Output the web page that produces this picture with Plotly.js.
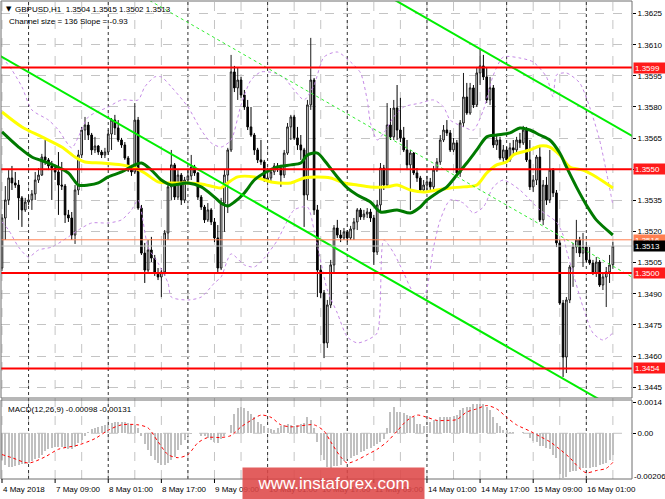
<!DOCTYPE html>
<html><head><meta charset="utf-8">
<script src="https://cdn.plot.ly/plotly-3.0.1.min.js"></script>
<style>html,body{margin:0;padding:0;background:#fff;}#chart{width:665px;height:499px;}</style>
</head><body><div id="chart"></div>
<script>
// ---- price data (GBPUSD H1) ----
const openP = [
1.35024,1.35265,1.35352,1.35458,1.35434,1.35424,1.35362,1.35304,1.35342,1.35352,
1.35381,1.35448,1.35472,1.35559,1.35545,1.35516,1.35506,1.35487,1.35424,1.35419,
1.35280,1.35265,1.35183,1.35400,1.35569,1.35689,1.35713,1.35665,1.35593,1.35612,
1.35583,1.35569,1.35583,1.35670,1.35737,1.35699,1.35641,1.35617,1.35554,1.35496,
1.35487,1.35737,1.35313,1.35096,1.35014,1.35111,1.35072,1.35000,1.34981,1.35005,
1.35193,1.35415,1.35521,1.35366,1.35472,1.35352,1.35448,1.35468,1.35511,1.35482,
1.35366,1.35318,1.35256,1.35304,1.35246,1.35169,1.35024,1.35337,1.35472,1.35593,
1.35969,1.35892,1.35930,1.35858,1.35800,1.35704,1.35665,1.35593,1.35545,1.35535,
1.35448,1.35458,1.35487,1.35516,1.35506,1.35472,1.35578,1.35704,1.35752,1.35651,
1.35617,1.35593,1.35376,1.35810,1.35930,1.35304,1.35014,1.34904,1.34663,1.34846,
1.35039,1.35217,1.35183,1.35169,1.35198,1.35169,1.35212,1.35246,1.35304,1.35270,
1.35284,1.35294,1.35265,1.35101,1.35328,1.35506,1.35424,1.35713,1.35656,1.35795,
1.35689,1.35651,1.35593,1.35521,1.35578,1.35482,1.35458,1.35400,1.35424,1.35439,
1.35415,1.35496,1.35535,1.35641,1.35689,1.35675,1.35593,1.35627,1.35482,1.35723,
1.35848,1.35771,1.35892,1.35810,1.35964,1.35998,1.35945,1.35834,1.35892,1.35617,
1.35641,1.35554,1.35593,1.35545,1.35603,1.35593,1.35641,1.35627,1.35689,1.35545,
1.35415,1.35448,1.35559,1.35256,1.35424,1.35352,1.35496,1.35386,1.35145,1.34855,
1.34595,1.34870,1.35029,1.35125,1.35159,1.35096,1.35125,1.35063,1.35048,1.35000,
1.35053,1.34942,1.34981,1.35005,1.35040];
const highP = [
1.35284,1.35419,1.35496,1.35516,1.35487,1.35448,1.35371,1.35362,1.35376,1.35400,
1.35487,1.35506,1.35574,1.35641,1.35554,1.35540,1.35521,1.35583,1.35535,1.35429,
1.35304,1.35294,1.35424,1.35593,1.35704,1.35752,1.35728,1.35675,1.35656,1.35617,
1.35593,1.35603,1.35689,1.35747,1.35762,1.35737,1.35651,1.35631,1.35564,1.35521,
1.35819,1.35752,1.35328,1.35145,1.35159,1.35174,1.35087,1.35024,1.35024,1.35207,
1.35424,1.35593,1.35530,1.35496,1.35482,1.35463,1.35496,1.35569,1.35521,1.35487,
1.35376,1.35328,1.35337,1.35313,1.35265,1.35231,1.35362,1.35496,1.35603,1.36051,
1.35998,1.35988,1.35945,1.35882,1.35834,1.35800,1.35675,1.35603,1.35641,1.35545,
1.35506,1.35496,1.35530,1.35530,1.35521,1.35593,1.35723,1.35762,1.35762,1.35704,
1.35665,1.35603,1.35834,1.36133,1.35940,1.35328,1.35039,1.34918,1.34870,1.35063,
1.35231,1.35256,1.35207,1.35217,1.35207,1.35227,1.35265,1.35313,1.35313,1.35304,
1.35313,1.35309,1.35280,1.35352,1.35530,1.35521,1.35819,1.35795,1.35834,1.35906,
1.35844,1.35704,1.35641,1.35593,1.35583,1.35506,1.35468,1.35448,1.35468,1.35458,
1.35516,1.35554,1.35665,1.35713,1.35737,1.35689,1.35651,1.35641,1.35737,1.35964,
1.35916,1.35916,1.35906,1.35993,1.36085,1.36051,1.35993,1.35945,1.35906,1.35665,
1.35656,1.35617,1.35607,1.35627,1.35641,1.35656,1.35675,1.35709,1.35704,1.35641,
1.35472,1.35569,1.35607,1.35448,1.35463,1.35593,1.35506,1.35400,1.35159,1.34870,
1.34884,1.35039,1.35145,1.35256,1.35174,1.35193,1.35135,1.35125,1.35063,1.35077,
1.35063,1.35000,1.35029,1.35087,1.35150];
const lowP = [
1.35010,1.35159,1.35328,1.35400,1.35410,1.35256,1.35222,1.35294,1.35328,1.35304,
1.35352,1.35434,1.35468,1.35521,1.35496,1.35352,1.35448,1.35280,1.35400,1.35241,
1.35246,1.35159,1.35140,1.35376,1.35554,1.35641,1.35641,1.35569,1.35578,1.35569,
1.35554,1.35554,1.35569,1.35593,1.35665,1.35631,1.35603,1.35545,1.35487,1.35468,
1.35477,1.35304,1.35087,1.34952,1.35005,1.35053,1.34986,1.34966,1.34884,1.34986,
1.35159,1.35352,1.35352,1.35352,1.35328,1.35337,1.35434,1.35448,1.35468,1.35352,
1.35304,1.35241,1.35246,1.35231,1.35149,1.35005,1.35014,1.35198,1.35289,1.35583,
1.35872,1.35834,1.35844,1.35786,1.35689,1.35656,1.35569,1.35530,1.35521,1.35439,
1.35434,1.35439,1.35472,1.35487,1.35415,1.35458,1.35569,1.35641,1.35641,1.35593,
1.35545,1.35222,1.35352,1.35786,1.35280,1.34884,1.34880,1.34590,1.34639,1.34831,
1.35005,1.35169,1.35149,1.35159,1.35149,1.35159,1.35159,1.35207,1.35256,1.35256,
1.35265,1.35246,1.35039,1.35087,1.35289,1.35400,1.35410,1.35641,1.35641,1.35641,
1.35631,1.35583,1.35496,1.35304,1.35472,1.35439,1.35390,1.35390,1.35400,1.35400,
1.35400,1.35487,1.35521,1.35631,1.35660,1.35583,1.35583,1.35463,1.35463,1.35704,
1.35762,1.35762,1.35795,1.35800,1.35906,1.35930,1.35819,1.35810,1.35603,1.35593,
1.35545,1.35535,1.35530,1.35535,1.35569,1.35583,1.35603,1.35617,1.35535,1.35400,
1.35390,1.35424,1.35246,1.35231,1.35328,1.35337,1.35366,1.35125,1.34846,1.34499,
1.34518,1.34855,1.34933,1.35096,1.35077,1.35029,1.35053,1.35039,1.34990,1.34981,
1.34933,1.34918,1.34836,1.34952,1.35020];
const closeP = [
1.35265,1.35352,1.35458,1.35434,1.35424,1.35362,1.35304,1.35342,1.35352,1.35381,
1.35448,1.35472,1.35559,1.35545,1.35516,1.35506,1.35487,1.35424,1.35419,1.35280,
1.35265,1.35183,1.35400,1.35569,1.35689,1.35713,1.35665,1.35593,1.35612,1.35583,
1.35569,1.35583,1.35670,1.35737,1.35699,1.35641,1.35617,1.35554,1.35496,1.35487,
1.35737,1.35313,1.35096,1.35014,1.35111,1.35072,1.35000,1.34981,1.35005,1.35193,
1.35415,1.35521,1.35366,1.35472,1.35352,1.35448,1.35468,1.35511,1.35482,1.35366,
1.35318,1.35256,1.35304,1.35246,1.35169,1.35024,1.35337,1.35472,1.35593,1.35969,
1.35892,1.35930,1.35858,1.35800,1.35704,1.35665,1.35593,1.35545,1.35535,1.35448,
1.35458,1.35487,1.35516,1.35506,1.35472,1.35578,1.35704,1.35752,1.35651,1.35617,
1.35593,1.35376,1.35810,1.35930,1.35304,1.35014,1.34904,1.34663,1.34846,1.35039,
1.35217,1.35183,1.35169,1.35198,1.35169,1.35212,1.35246,1.35304,1.35270,1.35284,
1.35294,1.35265,1.35101,1.35328,1.35506,1.35424,1.35713,1.35656,1.35795,1.35689,
1.35651,1.35593,1.35521,1.35578,1.35482,1.35458,1.35400,1.35424,1.35439,1.35415,
1.35496,1.35535,1.35641,1.35689,1.35675,1.35593,1.35627,1.35482,1.35723,1.35848,
1.35771,1.35892,1.35810,1.35964,1.35998,1.35945,1.35834,1.35892,1.35617,1.35641,
1.35554,1.35593,1.35545,1.35603,1.35593,1.35641,1.35627,1.35689,1.35545,1.35415,
1.35448,1.35559,1.35256,1.35424,1.35352,1.35496,1.35386,1.35145,1.34855,1.34595,
1.34870,1.35029,1.35125,1.35159,1.35096,1.35125,1.35063,1.35048,1.35000,1.35053,
1.34942,1.34981,1.35005,1.35039,1.35130];

// ---- indicators (bar index, value) ----
const yellowMABars = [0,6,12,18,22,25,30,36,40,43,47,51,56,60,64,66,68,71,76,81,87,91,95,99,103,107,111,116,119,123,127,131,135,139,143,146,149,152,154,159,162,165,168,171,175,179,184];
const yellowMAVals = [1.35776,1.35704,1.35656,1.35607,1.35559,1.35535,1.35530,1.35521,1.35506,1.35482,1.35439,1.35434,1.35434,1.35429,1.35415,1.35410,1.35434,1.35463,1.35463,1.35439,1.35434,1.35458,1.35463,1.35458,1.35434,1.35424,1.35415,1.35415,1.35424,1.35400,1.35390,1.35400,1.35410,1.35415,1.35424,1.35482,1.35521,1.35535,1.35569,1.35593,1.35612,1.35607,1.35569,1.35511,1.35496,1.35463,1.35410];
const greenMABars = [0,5,9,14,20,23,26,29,32,36,40,42,45,48,51,56,60,64,66,68,70,73,76,79,83,87,90,92,95,97,101,104,107,111,114,119,123,126,128,131,134,137,140,143,146,149,153,156,159,162,165,168,170,173,176,179,184];
const greenMAVals = [1.35680,1.35607,1.35559,1.35530,1.35482,1.35424,1.35424,1.35434,1.35463,1.35487,1.35521,1.35530,1.35496,1.35448,1.35424,1.35434,1.35415,1.35366,1.35337,1.35323,1.35342,1.35386,1.35448,1.35482,1.35511,1.35521,1.35530,1.35569,1.35578,1.35545,1.35463,1.35410,1.35376,1.35342,1.35294,1.35304,1.35289,1.35318,1.35352,1.35386,1.35415,1.35472,1.35530,1.35593,1.35656,1.35665,1.35675,1.35699,1.35689,1.35665,1.35641,1.35578,1.35511,1.35415,1.35328,1.35256,1.35183];
const bandUpperBars = [0,3,6,9,14,17,21,23,26,32,36,41,43,46,48,51,56,60,63,66,69,72,75,78,82,85,88,91,94,97,101,105,108,110,111,113,115,118,121,126,130,133,135,139,142,145,148,151,156,160,164,166,167,170,174,177,180,184];
const bandUpperVals = [1.36041,1.35978,1.35897,1.35786,1.35737,1.35689,1.35603,1.35656,1.35752,1.35800,1.35834,1.35834,1.35897,1.35945,1.35945,1.35897,1.35800,1.35689,1.35627,1.35607,1.35641,1.35810,1.35930,1.35969,1.35964,1.35940,1.35882,1.35834,1.35906,1.36041,1.36065,1.36017,1.35964,1.35834,1.35723,1.35641,1.35675,1.35752,1.35800,1.35819,1.35834,1.35800,1.35737,1.35704,1.35689,1.35786,1.35954,1.36041,1.36036,1.36017,1.35945,1.35848,1.35954,1.35964,1.35916,1.35800,1.35641,1.35328];
const bandLowerBars = [0,2,5,8,11,15,20,23,27,32,36,39,41,44,47,50,51,56,60,64,66,69,73,76,79,83,85,88,92,94,98,101,104,107,110,113,115,118,121,124,127,130,132,135,139,142,145,148,151,156,162,167,169,170,172,175,178,181,184];
const bandLowerVals = [1.35246,1.35207,1.35125,1.35077,1.35111,1.35125,1.35174,1.35207,1.35241,1.35241,1.35256,1.35304,1.35352,1.35125,1.35048,1.34952,1.34884,1.34870,1.34884,1.34952,1.34981,1.35092,1.35039,1.35029,1.35072,1.35159,1.35222,1.35304,1.35318,1.35207,1.34918,1.34807,1.34692,1.34663,1.34677,1.34711,1.35159,1.35096,1.35000,1.34904,1.34884,1.35125,1.35256,1.35352,1.35337,1.35289,1.35318,1.35415,1.35448,1.35400,1.35304,1.35246,1.35183,1.35111,1.35000,1.34836,1.34711,1.34677,1.34711];
const channelBars = [-1, 191];
const channelUpper = [1.37410, 1.35649];
const channelMid = [1.36730, 1.34969];
const channelLower = [1.36050, 1.34289];

// ---- MACD(12,26,9) ----
const macdHist = [
-0.00120,-0.00144,-0.00154,-0.00154,-0.00149,-0.00144,-0.00139,-0.00139,-0.00134,-0.00125,
-0.00115,-0.00110,-0.00096,-0.00082,-0.00072,-0.00067,-0.00062,-0.00062,-0.00062,-0.00067,
-0.00072,-0.00072,-0.00062,-0.00043,-0.00029,-0.00010,0.00005,0.00019,0.00024,0.00029,
0.00034,0.00038,0.00038,0.00048,0.00053,0.00053,0.00053,0.00053,0.00048,0.00043,
0.00038,0.00024,-0.00014,-0.00048,-0.00077,-0.00101,-0.00120,-0.00134,-0.00144,-0.00144,
-0.00134,-0.00120,-0.00106,-0.00077,-0.00053,-0.00029,-0.00010,-0.00005,0.00000,0.00000,
-0.00010,-0.00014,-0.00019,-0.00029,-0.00038,-0.00043,-0.00024,-0.00014,0.00000,0.00038,
0.00086,0.00115,0.00120,0.00115,0.00101,0.00086,0.00072,0.00053,0.00043,0.00034,
0.00024,0.00019,0.00014,0.00024,0.00034,0.00038,0.00043,0.00038,0.00034,0.00038,
0.00043,0.00048,0.00072,0.00062,0.00024,-0.00038,-0.00096,-0.00120,-0.00154,-0.00158,
-0.00149,-0.00149,-0.00144,-0.00125,-0.00115,-0.00110,-0.00101,-0.00096,-0.00086,-0.00082,
-0.00072,-0.00067,-0.00058,-0.00048,-0.00038,-0.00024,0.00024,0.00096,0.00120,0.00096,
0.00096,0.00091,0.00082,0.00077,0.00072,0.00043,0.00043,0.00034,0.00034,0.00053,
0.00058,0.00058,0.00072,0.00072,0.00072,0.00072,0.00077,0.00082,0.00106,0.00115,
0.00120,0.00120,0.00130,0.00134,0.00134,0.00130,0.00120,0.00106,0.00072,0.00048,
0.00034,0.00014,0.00014,0.00005,0.00005,0.00000,0.00000,0.00005,0.00000,-0.00019,
-0.00034,-0.00038,-0.00058,-0.00058,-0.00067,-0.00072,-0.00096,-0.00110,-0.00182,-0.00202,
-0.00196,-0.00173,-0.00168,-0.00168,-0.00158,-0.00158,-0.00158,-0.00158,-0.00154,-0.00154,
-0.00144,-0.00139,-0.00134,-0.00120,-0.00098];
const macdSignalBars = [0,3,8,13,17,23,28,32,36,41,44,47,50,53,56,59,62,66,69,72,75,78,81,84,87,90,94,97,99,102,104,107,110,113,116,119,122,125,128,131,134,137,140,143,146,149,152,155,159,162,165,168,171,174,176,179,182,184];
const macdSignalVals = [-0.00096,-0.00110,-0.00134,-0.00106,-0.00072,-0.00053,-0.00024,0.00014,0.00038,0.00038,0.00024,-0.00038,-0.00096,-0.00110,-0.00096,-0.00043,-0.00019,-0.00019,-0.00010,0.00029,0.00058,0.00082,0.00072,0.00038,0.00029,0.00034,0.00038,0.00010,-0.00038,-0.00106,-0.00134,-0.00120,-0.00096,-0.00072,-0.00038,0.00010,0.00058,0.00082,0.00072,0.00058,0.00058,0.00062,0.00096,0.00110,0.00125,0.00110,0.00072,0.00038,0.00010,-0.00014,-0.00038,-0.00072,-0.00110,-0.00158,-0.00178,-0.00168,-0.00158,-0.00131];

// ---- levels, ticks, labels ----
const redLevels = [1.3599, 1.3550, 1.3500, 1.3454];
const orangeLevel = 1.3516;
const bidLevel = 1.3513;
const priceTicks = [1.3445,1.3460,1.3475,1.3490,1.3505,1.3520,1.3535,1.3550,1.3565,1.3580,1.3595,1.3610,1.3625];
const macdTicks = [0.0014, 0];
const macdTickText = ['0.0014', '0.00'];
const macdMinLabel = '-0.00206';
const timeLabelBars = [0,16,32,48,64,80,96,112,128,144,160,176];
const timeLabels = ['4 May 2018','7 May 09:00','8 May 01:00','8 May 17:00','9 May 09:00','10 May 01:00','10 May 17:00','11 May 09:00','14 May 01:00','14 May 17:00','15 May 09:00','16 May 01:00'];
const daySeparatorBars = [8,32,56,80,104,128,152,176];
const headerText = 'GBPUSD,H1  1.3504 1.3515 1.3502 1.3513';
const channelText = 'Channel size = 136 Slope = -0.93';
const macdText = 'MACD(12,26,9) -0.00098 -0.00131';
const watermarkText = 'www.instaforex.com';

// ---- build ----
const bars = closeP.map((_, i) => i);
const W = 665, H = 499, L = 1, R = 33, T = 1, B = 20;
const pw = W - L - R, ph = H - T - B;
const PXB = 3.32;                       // pixels per bar
const X0 = -0.3;
const px = x => (x - L) / pw;          // pixel -> paper x
const py = y => (H - B - y) / ph;      // pixel -> paper y
const mainDom = [py(398), 1];
const macdDom = [0, py(400)];
const FONT = 'Liberation Sans, Arial, sans-serif';

const traces = [];
const bandStyle = {color: '#c58ae6', width: 1, dash: 'dot', shape: 'spline', smoothing: 0.7};
traces.push({type: 'scatter', mode: 'lines', x: bandUpperBars, y: bandUpperVals, line: bandStyle, xaxis: 'x', yaxis: 'y', hoverinfo: 'skip'});
traces.push({type: 'scatter', mode: 'lines', x: bandLowerBars, y: bandLowerVals, line: bandStyle, xaxis: 'x', yaxis: 'y', hoverinfo: 'skip'});
traces.push({
  type: 'candlestick', x: bars, open: openP, high: highP, low: lowP, close: closeP,
  xaxis: 'x', yaxis: 'y', whiskerwidth: 0,
  increasing: {line: {color: '#1a1a1a', width: 1}, fillcolor: '#ffffff'},
  decreasing: {line: {color: '#000000', width: 1}, fillcolor: '#000000'},
  hoverinfo: 'skip'
});
traces.push({type: 'scatter', mode: 'lines', x: yellowMABars, y: yellowMAVals, line: {color: '#ffff00', width: 3, shape: 'spline', smoothing: 0.8}, xaxis: 'x', yaxis: 'y', hoverinfo: 'skip'});
traces.push({type: 'scatter', mode: 'lines', x: greenMABars, y: greenMAVals, line: {color: '#007a00', width: 3, shape: 'spline', smoothing: 0.8}, xaxis: 'x', yaxis: 'y', hoverinfo: 'skip'});
traces.push({type: 'scatter', mode: 'lines', x: channelBars, y: channelUpper, line: {color: '#00ee00', width: 2}, xaxis: 'x', yaxis: 'y', hoverinfo: 'skip'});
traces.push({type: 'scatter', mode: 'lines', x: channelBars, y: channelMid, line: {color: '#33ee33', width: 1, dash: 'dot'}, xaxis: 'x', yaxis: 'y', hoverinfo: 'skip'});
traces.push({type: 'scatter', mode: 'lines', x: channelBars, y: channelLower, line: {color: '#00ee00', width: 2}, xaxis: 'x', yaxis: 'y', hoverinfo: 'skip'});
traces.push({type: 'bar', x: bars, y: macdHist, width: 0.6, marker: {color: '#c0c0c0', line: {width: 0}}, xaxis: 'x', yaxis: 'y2', hoverinfo: 'skip'});
traces.push({type: 'scatter', mode: 'lines', x: macdSignalBars, y: macdSignalVals, line: {color: '#ff0000', width: 1, dash: 'dot', shape: 'spline', smoothing: 0.8}, xaxis: 'x', yaxis: 'y2', hoverinfo: 'skip'});

const shapes = [];
// vertical grid every 8 bars
for (let b = 0; b <= bars.length; b += 8) {
  shapes.push({type: 'line', xref: 'x', yref: 'paper', x0: b, x1: b, y0: 0, y1: 1, layer: 'below', line: {color: '#c4c4c4', width: 1, dash: 'dash'}});
}
daySeparatorBars.forEach(b => shapes.push({type: 'line', xref: 'x', yref: 'paper', x0: b, x1: b, y0: 0, y1: 1, layer: 'below', line: {color: '#333333', width: 1, dash: 'dot'}}));
// MACD zero line
shapes.push({type: 'line', xref: 'paper', yref: 'y2', x0: 0, x1: 1, y0: 0, y1: 0, layer: 'below', line: {color: '#c4c4c4', width: 1, dash: 'dash'}});
// horizontal levels
shapes.push({type: 'line', xref: 'paper', yref: 'y', x0: 0, x1: 1, y0: bidLevel, y1: bidLevel, line: {color: '#c0c0c0', width: 1}});
shapes.push({type: 'line', xref: 'paper', yref: 'y', x0: 0, x1: 1, y0: orangeLevel, y1: orangeLevel, line: {color: '#ff7f50', width: 1}});
redLevels.forEach(v => shapes.push({type: 'line', xref: 'paper', yref: 'y', x0: 0, x1: 1, y0: v, y1: v, line: {color: '#ff0000', width: 2}}));
// panel frames
shapes.push({type: 'rect', xref: 'paper', yref: 'paper', x0: 0, x1: 1, y0: mainDom[0], y1: mainDom[1], line: {color: '#6e6e6e', width: 1}, fillcolor: 'rgba(0,0,0,0)'});
shapes.push({type: 'rect', xref: 'paper', yref: 'paper', x0: 0, x1: 1, y0: macdDom[0], y1: macdDom[1], line: {color: '#6e6e6e', width: 1}, fillcolor: 'rgba(0,0,0,0)'});
// small tick marks under the time labels
timeLabelBars.forEach(b => shapes.push({type: 'line', xref: 'x', yref: 'paper', x0: b, x1: b, y0: py(479), y1: py(483), line: {color: '#000', width: 1}}));

const annotations = [];
annotations.push({xref: 'paper', yref: 'paper', x: px(4), y: py(9), xanchor: 'left', yanchor: 'middle', text: '▼', showarrow: false, font: {family: 'DejaVu Sans', size: 7, color: '#000'}});
annotations.push({xref: 'paper', yref: 'paper', x: px(13), y: py(9), xanchor: 'left', yanchor: 'middle', text: headerText, showarrow: false, font: {family: FONT, size: 8, color: '#000'}});
annotations.push({xref: 'paper', yref: 'paper', x: px(7), y: py(22), xanchor: 'left', yanchor: 'middle', text: channelText, showarrow: false, font: {family: FONT, size: 8, color: '#000'}});
annotations.push({xref: 'paper', yref: 'paper', x: px(6), y: py(409), xanchor: 'left', yanchor: 'middle', text: macdText, showarrow: false, font: {family: FONT, size: 8, color: '#000'}});
annotations.push({xref: 'paper', yref: 'paper', x: px(632), y: py(476), xanchor: 'left', yanchor: 'middle', text: macdMinLabel, showarrow: false, font: {family: FONT, size: 8, color: '#000'}});
function priceBox(v, bg) {
  return {xref: 'paper', yref: 'y', x: 1, xshift: 1, y: v, xanchor: 'left', yanchor: 'middle', text: v.toFixed(4), showarrow: false,
          bgcolor: bg, borderpad: 1, width: 29, height: 8, align: 'left', font: {family: FONT, size: 8, color: '#ffffff'}};
}
redLevels.forEach(v => annotations.push(priceBox(v, '#ff1a1a')));
annotations.push(priceBox(orangeLevel, '#ff7f50'));
annotations.push(priceBox(bidLevel, '#000000'));
// time labels (left edge at the tick, as in the terminal)
timeLabelBars.forEach((b, k) => annotations.push({xref: 'x', yref: 'paper', x: b, xshift: -1, y: py(489), xanchor: 'left', yanchor: 'middle', text: timeLabels[k], showarrow: false, font: {family: FONT, size: 8, color: '#000'}}));
// watermark: a translucent red box drawn over the time labels
annotations.push({xref: 'paper', yref: 'paper', x: px(333.5), y: py(483.5), xanchor: 'center', yanchor: 'middle', text: watermarkText, showarrow: false,
  bgcolor: 'rgba(222,72,72,0.88)', borderpad: 0, width: 181, height: 31, font: {family: FONT, size: 17, color: '#ffffff'}});

const axisCommon = {fixedrange: true, zeroline: false, automargin: false};
const layout = {
  width: W, height: H, margin: {l: L, r: R, t: T, b: B, pad: 0, autoexpand: false},
  paper_bgcolor: '#ffffff', plot_bgcolor: '#ffffff', showlegend: false,
  font: {family: FONT, size: 8, color: '#000'},
  bargap: 0,
  xaxis: Object.assign({}, axisCommon, {
    domain: [0, 1], anchor: 'y2', range: [X0, X0 + pw / PXB], type: 'linear',
    showticklabels: false, ticks: '', showgrid: false, showline: false, rangeslider: {visible: false}
  }),
  yaxis: Object.assign({}, axisCommon, {
    domain: mainDom, anchor: 'x', side: 'right', range: [1.343976, 1.363108],
    tickvals: priceTicks, ticktext: priceTicks.map(v => redLevels.indexOf(v) >= 0 ? '' : v.toFixed(4)),
    ticks: 'outside', ticklen: 3, tickcolor: '#000', tickfont: {family: FONT, size: 8, color: '#000'},
    showgrid: true, gridcolor: '#c4c4c4', griddash: 'dash', gridwidth: 1, showline: false
  }),
  yaxis2: Object.assign({}, axisCommon, {
    domain: macdDom, anchor: 'x', side: 'right', range: [-0.00206, 0.0015],
    tickvals: macdTicks, ticktext: macdTickText,
    ticks: 'outside', ticklen: 3, tickcolor: '#000', tickfont: {family: FONT, size: 8, color: '#000'},
    showgrid: false, showline: false
  }),
  shapes: shapes,
  annotations: annotations
};
Plotly.newPlot('chart', traces, layout, {staticPlot: true, displayModeBar: false});
</script>
</body></html>
